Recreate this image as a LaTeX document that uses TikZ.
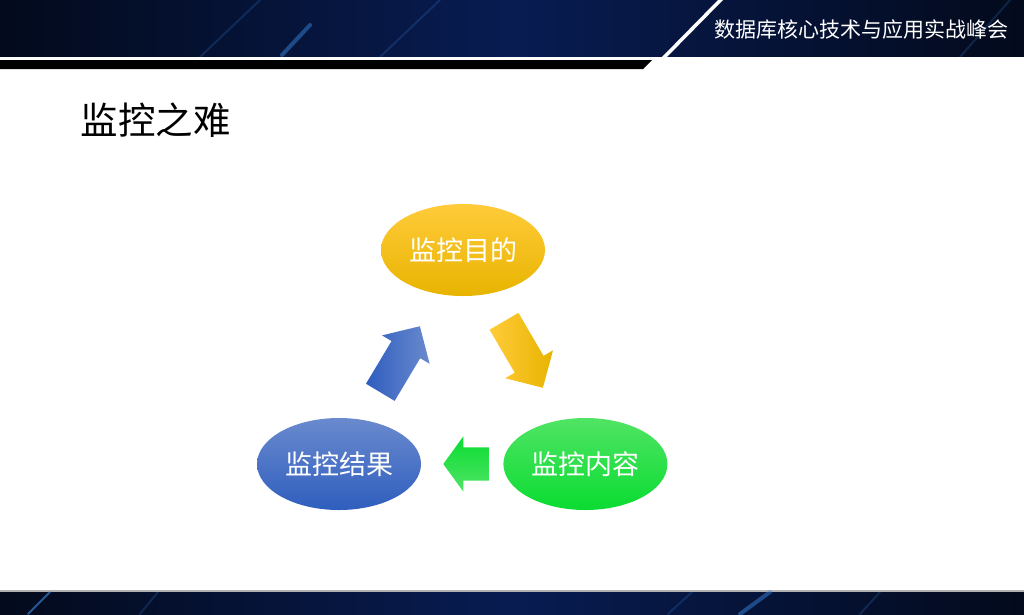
\documentclass[tikz,border=0pt]{standalone}
\usepackage{fontspec}
\setmainfont{Noto Sans CJK SC}
\usetikzlibrary{shapes.geometric, shapes.arrows, positioning}
\definecolor{cNavyDark}{RGB}{3,10,28}
\definecolor{cNavy}{RGB}{8,28,82}
\definecolor{cStreak}{RGB}{60,140,230}
\definecolor{cYellowTop}{RGB}{255,203,58}
\definecolor{cYellowBot}{RGB}{232,180,0}
\definecolor{cGreenTop}{RGB}{80,228,100}
\definecolor{cGreenBot}{RGB}{10,220,50}
\definecolor{cBlueTop}{RGB}{106,138,206}
\definecolor{cBlueBot}{RGB}{47,94,190}
\tikzset{
    bubble/.style={ellipse, minimum width=164pt, minimum height=92pt, inner sep=0pt, text=white, font=\fontsize{27}{30}\selectfont},
    blockarrow/.style={single arrow, anchor=tip, minimum height=77pt, minimum width=55pt, inner sep=16.5pt, single arrow head extend=11pt, single arrow tip angle=91},
    streak/.style={line width=2pt, cStreak, opacity=0.2, line cap=round},
}
\begin{document}
\begin{tikzpicture}[x=1pt, y=-1pt]
    \useasboundingbox (0,0) rectangle (1024,614);
    % header band
    \fill[left color=cNavyDark, right color=cNavyDark, middle color=cNavy] (0,0) rectangle (1024,57);
    \draw[streak] (200,57) -- (260,0);
    \draw[streak, line width=4pt, opacity=0.45] (282,55) -- (310,25);
    \draw[streak] (380,57) -- (440,0);
    \draw[streak] (960,57) -- (1010,0);
    \fill[white] (0,57) rectangle (1024,60);
    \fill[black] (0,60) -- (652,60) -- (643,69) -- (0,69) -- cycle;
    \fill[white] (718,0) -- (723,0) -- (664,60) -- (659,60) -- cycle;
    \node[text=white, font=\fontsize{21}{24}\selectfont] (event) at (861,30) {数据库核心技术与应用实战峰会};
    % footer band
    \fill[gray!60] (0,590) rectangle (1024,592);
    \fill[left color=cNavyDark, right color=cNavyDark, middle color=cNavy] (0,592) rectangle (1024,614);
    \draw[streak, opacity=0.6] (28,614) -- (50,592);
    \draw[streak] (140,614) -- (158,592);
    \draw[streak] (668,614) -- (692,592);
    \draw[streak, line width=4pt, opacity=0.45] (740,614) -- (770,592);
    \draw[streak] (860,614) -- (880,592);
    % title
    \node[anchor=west, font=\fontsize{37.5}{40}\selectfont] (title) at (77,120) {监控之难};
    % cycle
    \node[bubble, top color=cYellowTop, bottom color=cYellowBot] (purpose) at (463,250) {监控目的};
    \node[bubble, top color=cBlueTop, bottom color=cBlueBot] (result) at (339,464) {监控结果};
    \node[bubble, top color=cGreenTop, bottom color=cGreenBot, right=82pt of result] (content) {监控内容};
    \node[blockarrow, rotate=-59.7, left color=cYellowTop, right color=cYellowBot] (toContent) at (543,388) {};
    \node[blockarrow, rotate=180, minimum height=43pt, single arrow tip angle=108, top color=cGreenBot, bottom color=cGreenTop] (toResult) at (443,464) {};
    \node[blockarrow, rotate=59.1, left color=cBlueBot, right color=cBlueTop] (toPurpose) at (420,326) {};
\end{tikzpicture}
\end{document}
